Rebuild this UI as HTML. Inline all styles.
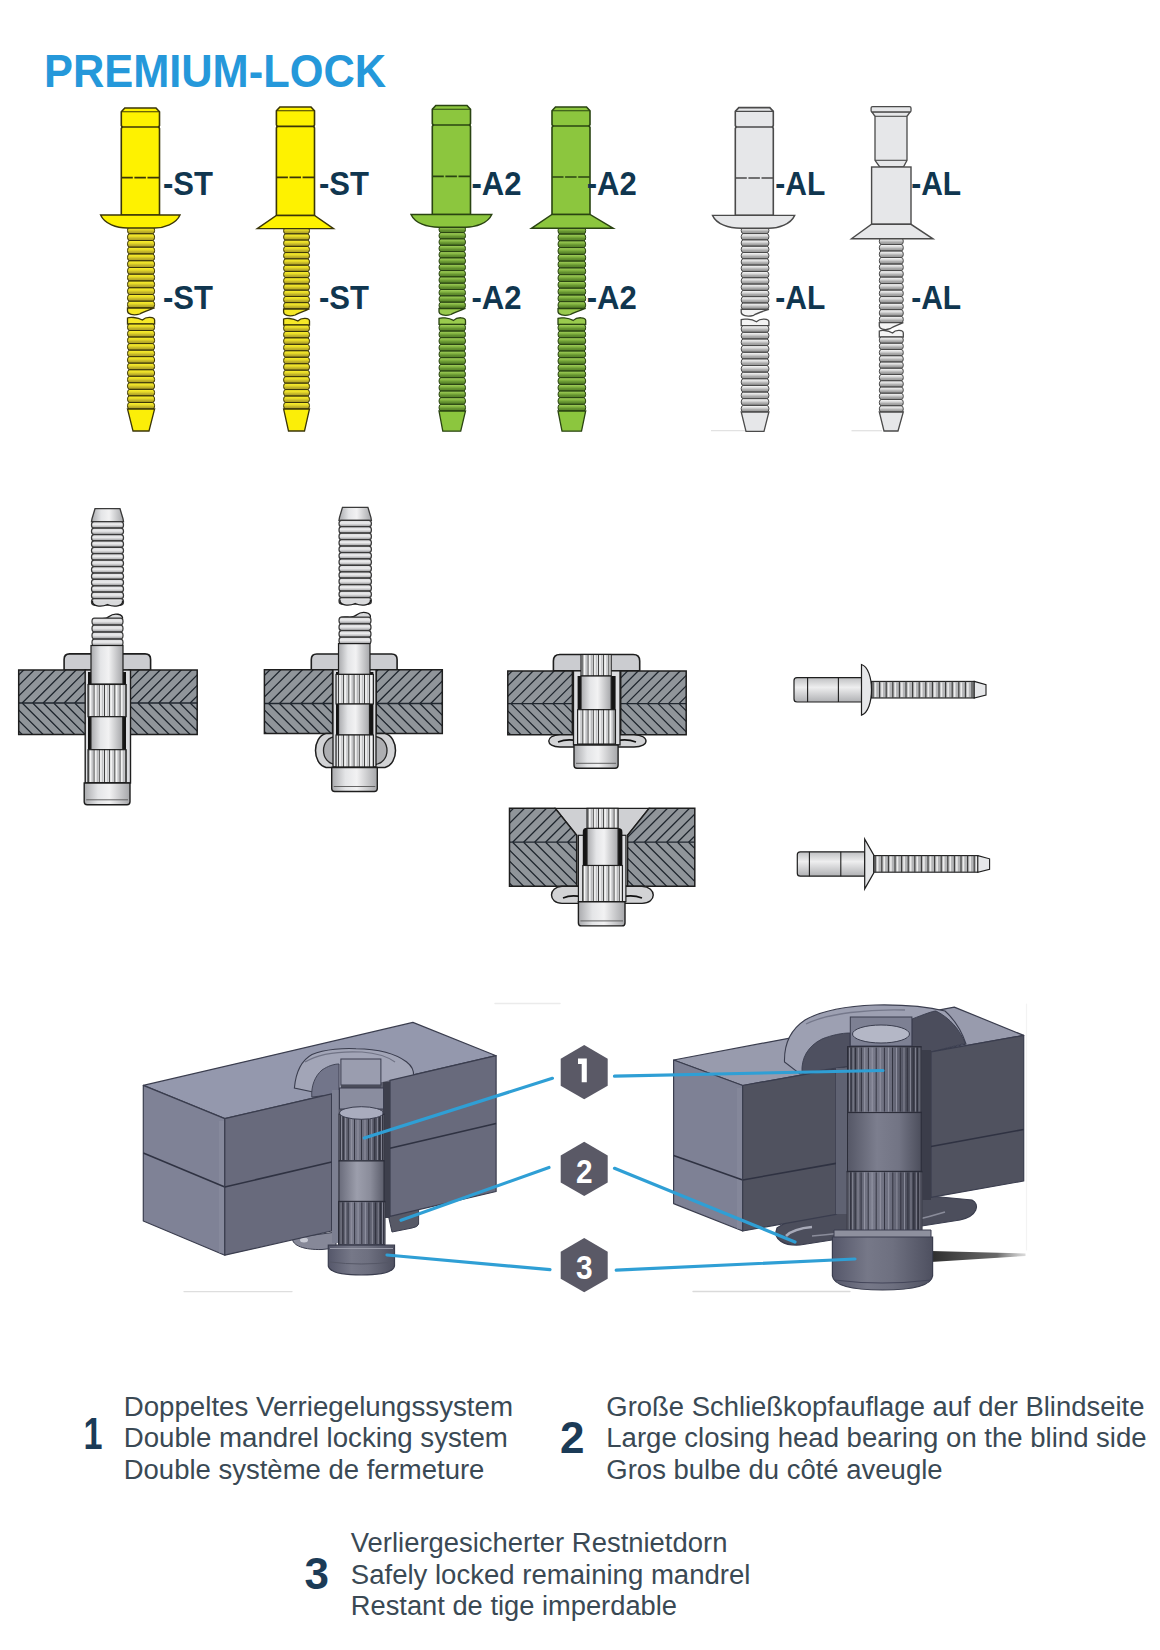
<!DOCTYPE html>
<html><head><meta charset="utf-8"><title>PREMIUM-LOCK</title>
<style>
html,body{margin:0;padding:0;background:#fff;width:1160px;height:1650px;overflow:hidden}
svg{display:block}
text{font-family:"Liberation Sans",sans-serif}
</style></head><body>
<svg width="1160" height="1650" viewBox="0 0 1160 1650">
<defs>
<linearGradient id="bd_y" x1="0" y1="0" x2="0" y2="1"><stop offset="0" stop-color="#8a7e15"/><stop offset="0.12" stop-color="#f8ec2c"/><stop offset="0.4" stop-color="#e6d928"/><stop offset="0.65" stop-color="#c3b52a"/><stop offset="0.9" stop-color="#ad9f24"/><stop offset="1" stop-color="#857a14"/></linearGradient>
<linearGradient id="bd_g" x1="0" y1="0" x2="0" y2="1"><stop offset="0" stop-color="#35581a"/><stop offset="0.12" stop-color="#9ccb56"/><stop offset="0.4" stop-color="#80b13f"/><stop offset="0.65" stop-color="#63902f"/><stop offset="0.9" stop-color="#588529"/><stop offset="1" stop-color="#35581a"/></linearGradient>
<linearGradient id="bd_a" x1="0" y1="0" x2="0" y2="1"><stop offset="0" stop-color="#626262"/><stop offset="0.12" stop-color="#f2f2f2"/><stop offset="0.4" stop-color="#d4d4d4"/><stop offset="0.65" stop-color="#aaaaaa"/><stop offset="0.9" stop-color="#9a9a9a"/><stop offset="1" stop-color="#626262"/></linearGradient>
<linearGradient id="bd_m" x1="0" y1="0" x2="0" y2="1"><stop offset="0" stop-color="#7c7c7e"/><stop offset="0.15" stop-color="#dedee0"/><stop offset="0.45" stop-color="#ebebec"/><stop offset="0.75" stop-color="#c0c0c2"/><stop offset="1" stop-color="#7c7c7e"/></linearGradient>

<linearGradient id="mg" x1="0" y1="0" x2="1" y2="0">
<stop offset="0" stop-color="#a9aaad"/><stop offset="0.3" stop-color="#e4e5e7"/><stop offset="0.55" stop-color="#f2f2f3"/><stop offset="1" stop-color="#a5a6a9"/>
</linearGradient>
<linearGradient id="mgv" x1="0" y1="0" x2="0" y2="1">
<stop offset="0" stop-color="#bfc0c2"/><stop offset="0.4" stop-color="#eeeeef"/><stop offset="1" stop-color="#b0b1b4"/>
</linearGradient>
<pattern id="knurl" patternUnits="userSpaceOnUse" width="5.2" height="10">
<rect width="5.2" height="10" fill="#e3e4e6"/><rect x="0" width="1.1" height="10" fill="#333"/><rect x="1.1" width="1.6" height="10" fill="#f7f7f7"/><rect x="3.2" width="1.2" height="10" fill="#b9babc"/>
</pattern>
<pattern id="mthread" patternUnits="userSpaceOnUse" width="60" height="6.6">
<rect width="60" height="6.6" fill="#cfd0d2"/><rect y="0" width="60" height="1.1" fill="#333"/><rect y="1.1" width="60" height="2.2" fill="#f4f4f4"/><rect y="4.4" width="60" height="1.3" fill="#a8a9ab"/>
</pattern>


<linearGradient id="kn3" x1="0" y1="0" x2="1" y2="0">
<stop offset="0" stop-color="#41434f"/><stop offset="0.3" stop-color="#7a7c8c"/><stop offset="0.6" stop-color="#6a6c7c"/><stop offset="1" stop-color="#373945"/>
</linearGradient>
<linearGradient id="sm3" x1="0" y1="0" x2="1" y2="0">
<stop offset="0" stop-color="#6a6c7b"/><stop offset="0.4" stop-color="#9c9eac"/><stop offset="0.7" stop-color="#8a8c9a"/><stop offset="1" stop-color="#5b5d6b"/>
</linearGradient>
<linearGradient id="sm3r" x1="0" y1="0" x2="1" y2="0">
<stop offset="0" stop-color="#555766"/><stop offset="0.4" stop-color="#7c7e8e"/><stop offset="0.7" stop-color="#727484"/><stop offset="1" stop-color="#4c4e5c"/>
</linearGradient>
<linearGradient id="cap3" x1="0" y1="0" x2="1" y2="0">
<stop offset="0" stop-color="#55576a"/><stop offset="0.35" stop-color="#767888"/><stop offset="0.6" stop-color="#6e7080"/><stop offset="1" stop-color="#4e5060"/>
</linearGradient>
<linearGradient id="shad" x1="0" y1="0" x2="1" y2="0">
<stop offset="0" stop-color="#222" stop-opacity="0.95"/><stop offset="0.7" stop-color="#444" stop-opacity="0.8"/><stop offset="1" stop-color="#888" stop-opacity="0.3"/>
</linearGradient>

</defs>
<text x="44" y="87.4" font-size="47" font-weight="bold" fill="#2598da" textLength="342" lengthAdjust="spacingAndGlyphs">PREMIUM-LOCK</text>
<g fill="url(#bd_y)" stroke="#3b3608" stroke-width="1.0"><rect x="127.5" y="227.0" width="27.1" height="6.75" rx="2.2" ry="3.38"/><rect x="127.5" y="233.8" width="27.1" height="6.75" rx="2.2" ry="3.38"/><rect x="127.5" y="240.5" width="27.1" height="6.75" rx="2.2" ry="3.38"/><rect x="127.5" y="247.2" width="27.1" height="6.75" rx="2.2" ry="3.38"/><rect x="127.5" y="254.0" width="27.1" height="6.75" rx="2.2" ry="3.38"/><rect x="127.5" y="260.8" width="27.1" height="6.75" rx="2.2" ry="3.38"/><rect x="127.5" y="267.5" width="27.1" height="6.75" rx="2.2" ry="3.38"/><rect x="127.5" y="274.2" width="27.1" height="6.75" rx="2.2" ry="3.38"/><rect x="127.5" y="281.0" width="27.1" height="6.75" rx="2.2" ry="3.38"/><rect x="127.5" y="287.8" width="27.1" height="6.75" rx="2.2" ry="3.38"/><rect x="127.5" y="294.5" width="27.1" height="6.75" rx="2.2" ry="3.38"/><rect x="127.5" y="301.2" width="27.1" height="6.75" rx="2.2" ry="3.38"/></g>
<path d="M127.5,308 L154.6,308 C149.18,310 142.695,312 139.695,314 C132.92,316 127.5,314 127.5,311 Z" fill="#f5e828" stroke="#3b3608" stroke-width="1.3"/>
<path d="M127.5,324 L154.6,324 L154.6,320 C154.6,317 146.47,316 142.405,320 C136.985,317 129.5,317 127.5,318 Z" fill="#f5e828" stroke="#3b3608" stroke-width="1.3"/>
<g fill="url(#bd_y)" stroke="#3b3608" stroke-width="1.0"><rect x="127.5" y="324.0" width="27.1" height="6.54" rx="2.2" ry="3.27"/><rect x="127.5" y="330.5" width="27.1" height="6.54" rx="2.2" ry="3.27"/><rect x="127.5" y="337.1" width="27.1" height="6.54" rx="2.2" ry="3.27"/><rect x="127.5" y="343.6" width="27.1" height="6.54" rx="2.2" ry="3.27"/><rect x="127.5" y="350.2" width="27.1" height="6.54" rx="2.2" ry="3.27"/><rect x="127.5" y="356.7" width="27.1" height="6.54" rx="2.2" ry="3.27"/><rect x="127.5" y="363.2" width="27.1" height="6.54" rx="2.2" ry="3.27"/><rect x="127.5" y="369.8" width="27.1" height="6.54" rx="2.2" ry="3.27"/><rect x="127.5" y="376.3" width="27.1" height="6.54" rx="2.2" ry="3.27"/><rect x="127.5" y="382.8" width="27.1" height="6.54" rx="2.2" ry="3.27"/><rect x="127.5" y="389.4" width="27.1" height="6.54" rx="2.2" ry="3.27"/><rect x="127.5" y="395.9" width="27.1" height="6.54" rx="2.2" ry="3.27"/><rect x="127.5" y="402.5" width="27.1" height="6.54" rx="2.2" ry="3.27"/></g>
<path d="M127.5,409 L154.6,409 L149,431 L133,431 Z" fill="#fbee08" stroke="#3b3608" stroke-width="1.3"/>
<path d="M121.3,215 L121.3,128.5 L122.1,127 L121.3,125.5 L121.3,111.8 L124.8,108 L156.0,108 L159.5,111.8 L159.5,125.5 L158.7,127 L159.5,128.5 L159.5,215 Z" fill="#fef200" stroke="#3b3608" stroke-width="1.6"/>
<line x1="121.3" y1="111.8" x2="159.5" y2="111.8" stroke="#3b3608" stroke-width="1.1"/>
<line x1="121.3" y1="127" x2="159.5" y2="127" stroke="#3b3608" stroke-width="1.7"/>
<line x1="121.3" y1="177.6" x2="159.5" y2="177.6" stroke="#3b3608" stroke-width="1.7" stroke-dasharray="11.5 1.6"/>
<path d="M100.6,215 L180,215 C176,224 164,228 154.6,228 L127.5,228 C116.6,228 104.6,224 100.6,215 Z" fill="#fef200" stroke="#3b3608" stroke-width="1.4"/>
<g fill="url(#bd_y)" stroke="#3b3608" stroke-width="1.0"><rect x="283.6" y="227.6" width="25.9" height="6.26" rx="2.2" ry="3.13"/><rect x="283.6" y="233.9" width="25.9" height="6.26" rx="2.2" ry="3.13"/><rect x="283.6" y="240.1" width="25.9" height="6.26" rx="2.2" ry="3.13"/><rect x="283.6" y="246.4" width="25.9" height="6.26" rx="2.2" ry="3.13"/><rect x="283.6" y="252.6" width="25.9" height="6.26" rx="2.2" ry="3.13"/><rect x="283.6" y="258.9" width="25.9" height="6.26" rx="2.2" ry="3.13"/><rect x="283.6" y="265.2" width="25.9" height="6.26" rx="2.2" ry="3.13"/><rect x="283.6" y="271.4" width="25.9" height="6.26" rx="2.2" ry="3.13"/><rect x="283.6" y="277.7" width="25.9" height="6.26" rx="2.2" ry="3.13"/><rect x="283.6" y="284.0" width="25.9" height="6.26" rx="2.2" ry="3.13"/><rect x="283.6" y="290.2" width="25.9" height="6.26" rx="2.2" ry="3.13"/><rect x="283.6" y="296.5" width="25.9" height="6.26" rx="2.2" ry="3.13"/><rect x="283.6" y="302.7" width="25.9" height="6.26" rx="2.2" ry="3.13"/></g>
<path d="M283.6,309 L309.5,309 C304.32,311 298.255,313 295.255,315 C288.78000000000003,317 283.6,315 283.6,312 Z" fill="#f5e828" stroke="#3b3608" stroke-width="1.3"/>
<path d="M283.6,325 L309.5,325 L309.5,321 C309.5,318 301.73,317 297.845,321 C292.665,318 285.6,318 283.6,319 Z" fill="#f5e828" stroke="#3b3608" stroke-width="1.3"/>
<g fill="url(#bd_y)" stroke="#3b3608" stroke-width="1.0"><rect x="283.6" y="325.0" width="25.9" height="6.46" rx="2.2" ry="3.23"/><rect x="283.6" y="331.5" width="25.9" height="6.46" rx="2.2" ry="3.23"/><rect x="283.6" y="337.9" width="25.9" height="6.46" rx="2.2" ry="3.23"/><rect x="283.6" y="344.4" width="25.9" height="6.46" rx="2.2" ry="3.23"/><rect x="283.6" y="350.8" width="25.9" height="6.46" rx="2.2" ry="3.23"/><rect x="283.6" y="357.3" width="25.9" height="6.46" rx="2.2" ry="3.23"/><rect x="283.6" y="363.8" width="25.9" height="6.46" rx="2.2" ry="3.23"/><rect x="283.6" y="370.2" width="25.9" height="6.46" rx="2.2" ry="3.23"/><rect x="283.6" y="376.7" width="25.9" height="6.46" rx="2.2" ry="3.23"/><rect x="283.6" y="383.2" width="25.9" height="6.46" rx="2.2" ry="3.23"/><rect x="283.6" y="389.6" width="25.9" height="6.46" rx="2.2" ry="3.23"/><rect x="283.6" y="396.1" width="25.9" height="6.46" rx="2.2" ry="3.23"/><rect x="283.6" y="402.5" width="25.9" height="6.46" rx="2.2" ry="3.23"/></g>
<path d="M283.6,409 L309.5,409 L304.5,431 L288.5,431 Z" fill="#fbee08" stroke="#3b3608" stroke-width="1.3"/>
<path d="M276.4,215.5 L276.4,127.9 L277.2,126.4 L276.4,124.9 L276.4,110.8 L279.9,107 L311.0,107 L314.5,110.8 L314.5,124.9 L313.7,126.4 L314.5,127.9 L314.5,215.5 Z" fill="#fef200" stroke="#3b3608" stroke-width="1.6"/>
<line x1="276.4" y1="110.8" x2="314.5" y2="110.8" stroke="#3b3608" stroke-width="1.1"/>
<line x1="276.4" y1="126.4" x2="314.5" y2="126.4" stroke="#3b3608" stroke-width="1.7"/>
<line x1="276.4" y1="177.3" x2="314.5" y2="177.3" stroke="#3b3608" stroke-width="1.7" stroke-dasharray="11.5 1.6"/>
<path d="M276.4,215.5 L314.5,215.5 L333.5,228.6 L257.3,228.6 Z" fill="#fef200" stroke="#3b3608" stroke-width="1.4"/>
<g fill="url(#bd_g)" stroke="#2a4412" stroke-width="1.0"><rect x="439.0" y="226.3" width="26.5" height="6.32" rx="2.2" ry="3.16"/><rect x="439.0" y="232.6" width="26.5" height="6.32" rx="2.2" ry="3.16"/><rect x="439.0" y="238.9" width="26.5" height="6.32" rx="2.2" ry="3.16"/><rect x="439.0" y="245.3" width="26.5" height="6.32" rx="2.2" ry="3.16"/><rect x="439.0" y="251.6" width="26.5" height="6.32" rx="2.2" ry="3.16"/><rect x="439.0" y="257.9" width="26.5" height="6.32" rx="2.2" ry="3.16"/><rect x="439.0" y="264.2" width="26.5" height="6.32" rx="2.2" ry="3.16"/><rect x="439.0" y="270.6" width="26.5" height="6.32" rx="2.2" ry="3.16"/><rect x="439.0" y="276.9" width="26.5" height="6.32" rx="2.2" ry="3.16"/><rect x="439.0" y="283.2" width="26.5" height="6.32" rx="2.2" ry="3.16"/><rect x="439.0" y="289.5" width="26.5" height="6.32" rx="2.2" ry="3.16"/><rect x="439.0" y="295.9" width="26.5" height="6.32" rx="2.2" ry="3.16"/><rect x="439.0" y="302.2" width="26.5" height="6.32" rx="2.2" ry="3.16"/></g>
<path d="M439,308.5 L465.5,308.5 C460.2,310.5 453.925,312.5 450.925,314.5 C444.3,316.5 439,314.5 439,311.5 Z" fill="#9acb4e" stroke="#2a4412" stroke-width="1.3"/>
<path d="M439,324.4 L465.5,324.4 L465.5,320.4 C465.5,317.4 457.55,316.4 453.575,320.4 C448.275,317.4 441,317.4 439,318.4 Z" fill="#9acb4e" stroke="#2a4412" stroke-width="1.3"/>
<g fill="url(#bd_g)" stroke="#2a4412" stroke-width="1.0"><rect x="439.0" y="324.4" width="26.5" height="6.66" rx="2.2" ry="3.33"/><rect x="439.0" y="331.1" width="26.5" height="6.66" rx="2.2" ry="3.33"/><rect x="439.0" y="337.7" width="26.5" height="6.66" rx="2.2" ry="3.33"/><rect x="439.0" y="344.4" width="26.5" height="6.66" rx="2.2" ry="3.33"/><rect x="439.0" y="351.0" width="26.5" height="6.66" rx="2.2" ry="3.33"/><rect x="439.0" y="357.7" width="26.5" height="6.66" rx="2.2" ry="3.33"/><rect x="439.0" y="364.4" width="26.5" height="6.66" rx="2.2" ry="3.33"/><rect x="439.0" y="371.0" width="26.5" height="6.66" rx="2.2" ry="3.33"/><rect x="439.0" y="377.7" width="26.5" height="6.66" rx="2.2" ry="3.33"/><rect x="439.0" y="384.4" width="26.5" height="6.66" rx="2.2" ry="3.33"/><rect x="439.0" y="391.0" width="26.5" height="6.66" rx="2.2" ry="3.33"/><rect x="439.0" y="397.7" width="26.5" height="6.66" rx="2.2" ry="3.33"/><rect x="439.0" y="404.3" width="26.5" height="6.66" rx="2.2" ry="3.33"/></g>
<path d="M439,411 L465.5,411 L460.7,431.2 L442.8,431.2 Z" fill="#8cc63e" stroke="#2a4412" stroke-width="1.3"/>
<path d="M432.3,214.5 L432.3,126.5 L433.1,125 L432.3,123.5 L432.3,109.3 L435.8,105.5 L467.0,105.5 L470.5,109.3 L470.5,123.5 L469.7,125 L470.5,126.5 L470.5,214.5 Z" fill="#8cc63e" stroke="#2a4412" stroke-width="1.6"/>
<line x1="432.3" y1="109.3" x2="470.5" y2="109.3" stroke="#2a4412" stroke-width="1.1"/>
<line x1="432.3" y1="125" x2="470.5" y2="125" stroke="#2a4412" stroke-width="1.7"/>
<line x1="432.3" y1="176.4" x2="470.5" y2="176.4" stroke="#2a4412" stroke-width="1.7" stroke-dasharray="11.5 1.6"/>
<path d="M411,214.5 L491.8,214.5 C487.8,223.3 475.8,227.3 465.5,227.3 L439,227.3 C427,227.3 415,223.3 411,214.5 Z" fill="#8cc63e" stroke="#2a4412" stroke-width="1.4"/>
<g fill="url(#bd_g)" stroke="#2a4412" stroke-width="1.0"><rect x="558.0" y="227.3" width="27.7" height="6.77" rx="2.2" ry="3.38"/><rect x="558.0" y="234.1" width="27.7" height="6.77" rx="2.2" ry="3.38"/><rect x="558.0" y="240.8" width="27.7" height="6.77" rx="2.2" ry="3.38"/><rect x="558.0" y="247.6" width="27.7" height="6.77" rx="2.2" ry="3.38"/><rect x="558.0" y="254.4" width="27.7" height="6.77" rx="2.2" ry="3.38"/><rect x="558.0" y="261.1" width="27.7" height="6.77" rx="2.2" ry="3.38"/><rect x="558.0" y="267.9" width="27.7" height="6.77" rx="2.2" ry="3.38"/><rect x="558.0" y="274.7" width="27.7" height="6.77" rx="2.2" ry="3.38"/><rect x="558.0" y="281.4" width="27.7" height="6.77" rx="2.2" ry="3.38"/><rect x="558.0" y="288.2" width="27.7" height="6.77" rx="2.2" ry="3.38"/><rect x="558.0" y="295.0" width="27.7" height="6.77" rx="2.2" ry="3.38"/><rect x="558.0" y="301.7" width="27.7" height="6.77" rx="2.2" ry="3.38"/></g>
<path d="M558,308.5 L585.7,308.5 C580.1600000000001,310.5 573.465,312.5 570.465,314.5 C563.54,316.5 558,314.5 558,311.5 Z" fill="#9acb4e" stroke="#2a4412" stroke-width="1.3"/>
<path d="M558,324.4 L585.7,324.4 L585.7,320.4 C585.7,317.4 577.39,316.4 573.235,320.4 C567.695,317.4 560,317.4 558,318.4 Z" fill="#9acb4e" stroke="#2a4412" stroke-width="1.3"/>
<g fill="url(#bd_g)" stroke="#2a4412" stroke-width="1.0"><rect x="558.0" y="324.4" width="27.7" height="6.66" rx="2.2" ry="3.33"/><rect x="558.0" y="331.1" width="27.7" height="6.66" rx="2.2" ry="3.33"/><rect x="558.0" y="337.7" width="27.7" height="6.66" rx="2.2" ry="3.33"/><rect x="558.0" y="344.4" width="27.7" height="6.66" rx="2.2" ry="3.33"/><rect x="558.0" y="351.0" width="27.7" height="6.66" rx="2.2" ry="3.33"/><rect x="558.0" y="357.7" width="27.7" height="6.66" rx="2.2" ry="3.33"/><rect x="558.0" y="364.4" width="27.7" height="6.66" rx="2.2" ry="3.33"/><rect x="558.0" y="371.0" width="27.7" height="6.66" rx="2.2" ry="3.33"/><rect x="558.0" y="377.7" width="27.7" height="6.66" rx="2.2" ry="3.33"/><rect x="558.0" y="384.4" width="27.7" height="6.66" rx="2.2" ry="3.33"/><rect x="558.0" y="391.0" width="27.7" height="6.66" rx="2.2" ry="3.33"/><rect x="558.0" y="397.7" width="27.7" height="6.66" rx="2.2" ry="3.33"/><rect x="558.0" y="404.3" width="27.7" height="6.66" rx="2.2" ry="3.33"/></g>
<path d="M558,411 L585.7,411 L581.5,431.2 L562,431.2 Z" fill="#8cc63e" stroke="#2a4412" stroke-width="1.3"/>
<path d="M552,214.5 L552,127.5 L552.8,126 L552,124.5 L552,110.8 L555.5,107 L586.5,107 L590,110.8 L590,124.5 L589.2,126 L590,127.5 L590,214.5 Z" fill="#8cc63e" stroke="#2a4412" stroke-width="1.6"/>
<line x1="552" y1="110.8" x2="590" y2="110.8" stroke="#2a4412" stroke-width="1.1"/>
<line x1="552" y1="126" x2="590" y2="126" stroke="#2a4412" stroke-width="1.7"/>
<line x1="552" y1="177" x2="590" y2="177" stroke="#2a4412" stroke-width="1.7" stroke-dasharray="11.5 1.6"/>
<path d="M552,214.5 L590,214.5 L613.3,228.3 L531.4,228.3 Z" fill="#8cc63e" stroke="#2a4412" stroke-width="1.4"/>
<g fill="url(#bd_a)" stroke="#4a4a4a" stroke-width="1.0"><rect x="741.2" y="227.3" width="27.7" height="6.31" rx="2.2" ry="3.15"/><rect x="741.2" y="233.6" width="27.7" height="6.31" rx="2.2" ry="3.15"/><rect x="741.2" y="239.9" width="27.7" height="6.31" rx="2.2" ry="3.15"/><rect x="741.2" y="246.2" width="27.7" height="6.31" rx="2.2" ry="3.15"/><rect x="741.2" y="252.5" width="27.7" height="6.31" rx="2.2" ry="3.15"/><rect x="741.2" y="258.8" width="27.7" height="6.31" rx="2.2" ry="3.15"/><rect x="741.2" y="265.1" width="27.7" height="6.31" rx="2.2" ry="3.15"/><rect x="741.2" y="271.5" width="27.7" height="6.31" rx="2.2" ry="3.15"/><rect x="741.2" y="277.8" width="27.7" height="6.31" rx="2.2" ry="3.15"/><rect x="741.2" y="284.1" width="27.7" height="6.31" rx="2.2" ry="3.15"/><rect x="741.2" y="290.4" width="27.7" height="6.31" rx="2.2" ry="3.15"/><rect x="741.2" y="296.7" width="27.7" height="6.31" rx="2.2" ry="3.15"/><rect x="741.2" y="303.0" width="27.7" height="6.31" rx="2.2" ry="3.15"/></g>
<path d="M741.2,309.3 L768.9,309.3 C763.36,311.3 756.665,313.3 753.665,315.3 C746.74,317.3 741.2,315.3 741.2,312.3 Z" fill="#f4f4f4" stroke="#4a4a4a" stroke-width="1.3"/>
<path d="M741.2,325.7 L768.9,325.7 L768.9,321.7 C768.9,318.7 760.59,317.7 756.4350000000001,321.7 C750.8950000000001,318.7 743.2,318.7 741.2,319.7 Z" fill="#f4f4f4" stroke="#4a4a4a" stroke-width="1.3"/>
<g fill="url(#bd_a)" stroke="#4a4a4a" stroke-width="1.0"><rect x="741.2" y="325.7" width="27.7" height="6.64" rx="2.2" ry="3.32"/><rect x="741.2" y="332.3" width="27.7" height="6.64" rx="2.2" ry="3.32"/><rect x="741.2" y="339.0" width="27.7" height="6.64" rx="2.2" ry="3.32"/><rect x="741.2" y="345.6" width="27.7" height="6.64" rx="2.2" ry="3.32"/><rect x="741.2" y="352.3" width="27.7" height="6.64" rx="2.2" ry="3.32"/><rect x="741.2" y="358.9" width="27.7" height="6.64" rx="2.2" ry="3.32"/><rect x="741.2" y="365.5" width="27.7" height="6.64" rx="2.2" ry="3.32"/><rect x="741.2" y="372.2" width="27.7" height="6.64" rx="2.2" ry="3.32"/><rect x="741.2" y="378.8" width="27.7" height="6.64" rx="2.2" ry="3.32"/><rect x="741.2" y="385.4" width="27.7" height="6.64" rx="2.2" ry="3.32"/><rect x="741.2" y="392.1" width="27.7" height="6.64" rx="2.2" ry="3.32"/><rect x="741.2" y="398.7" width="27.7" height="6.64" rx="2.2" ry="3.32"/><rect x="741.2" y="405.4" width="27.7" height="6.64" rx="2.2" ry="3.32"/></g>
<path d="M741.2,412 L768.9,412 L764,431.3 L746,431.3 Z" fill="#e6e7e9" stroke="#4a4a4a" stroke-width="1.3"/>
<path d="M735.3,215.4 L735.3,128.5 L736.0999999999999,127 L735.3,125.5 L735.3,111.39999999999999 L738.8,107.6 L769.8,107.6 L773.3,111.39999999999999 L773.3,125.5 L772.5,127 L773.3,128.5 L773.3,215.4 Z" fill="#e6e7e9" stroke="#4a4a4a" stroke-width="1.6"/>
<line x1="735.3" y1="111.39999999999999" x2="773.3" y2="111.39999999999999" stroke="#4a4a4a" stroke-width="1.1"/>
<line x1="735.3" y1="127" x2="773.3" y2="127" stroke="#4a4a4a" stroke-width="1.7"/>
<line x1="735.3" y1="178" x2="773.3" y2="178" stroke="#4a4a4a" stroke-width="1.7" stroke-dasharray="11.5 1.6"/>
<path d="M712.5,215.4 L794.7,215.4 C790.7,224.3 778.7,228.3 768.9,228.3 L741.2,228.3 C728.5,228.3 716.5,224.3 712.5,215.4 Z" fill="#e6e7e9" stroke="#4a4a4a" stroke-width="1.4"/>
<g fill="url(#bd_a)" stroke="#4a4a4a" stroke-width="1.0"><rect x="879.3" y="238.0" width="24.0" height="6.52" rx="2.2" ry="3.26"/><rect x="879.3" y="244.5" width="24.0" height="6.52" rx="2.2" ry="3.26"/><rect x="879.3" y="251.0" width="24.0" height="6.52" rx="2.2" ry="3.26"/><rect x="879.3" y="257.5" width="24.0" height="6.52" rx="2.2" ry="3.26"/><rect x="879.3" y="264.1" width="24.0" height="6.52" rx="2.2" ry="3.26"/><rect x="879.3" y="270.6" width="24.0" height="6.52" rx="2.2" ry="3.26"/><rect x="879.3" y="277.1" width="24.0" height="6.52" rx="2.2" ry="3.26"/><rect x="879.3" y="283.6" width="24.0" height="6.52" rx="2.2" ry="3.26"/><rect x="879.3" y="290.1" width="24.0" height="6.52" rx="2.2" ry="3.26"/><rect x="879.3" y="296.6" width="24.0" height="6.52" rx="2.2" ry="3.26"/><rect x="879.3" y="303.2" width="24.0" height="6.52" rx="2.2" ry="3.26"/><rect x="879.3" y="309.7" width="24.0" height="6.52" rx="2.2" ry="3.26"/><rect x="879.3" y="316.2" width="24.0" height="6.52" rx="2.2" ry="3.26"/></g>
<path d="M879.3,322.7 L903.3,322.7 C898.5,324.7 893.0999999999999,326.7 890.0999999999999,328.7 C884.0999999999999,330.7 879.3,328.7 879.3,325.7 Z" fill="#f4f4f4" stroke="#4a4a4a" stroke-width="1.3"/>
<path d="M879.3,337 L903.3,337 L903.3,333 C903.3,330 896.1,329 892.5,333 C887.7,330 881.3,330 879.3,331 Z" fill="#f4f4f4" stroke="#4a4a4a" stroke-width="1.3"/>
<g fill="url(#bd_a)" stroke="#4a4a4a" stroke-width="1.0"><rect x="879.3" y="337.0" width="24.0" height="6.25" rx="2.2" ry="3.12"/><rect x="879.3" y="343.2" width="24.0" height="6.25" rx="2.2" ry="3.12"/><rect x="879.3" y="349.5" width="24.0" height="6.25" rx="2.2" ry="3.12"/><rect x="879.3" y="355.8" width="24.0" height="6.25" rx="2.2" ry="3.12"/><rect x="879.3" y="362.0" width="24.0" height="6.25" rx="2.2" ry="3.12"/><rect x="879.3" y="368.2" width="24.0" height="6.25" rx="2.2" ry="3.12"/><rect x="879.3" y="374.5" width="24.0" height="6.25" rx="2.2" ry="3.12"/><rect x="879.3" y="380.8" width="24.0" height="6.25" rx="2.2" ry="3.12"/><rect x="879.3" y="387.0" width="24.0" height="6.25" rx="2.2" ry="3.12"/><rect x="879.3" y="393.2" width="24.0" height="6.25" rx="2.2" ry="3.12"/><rect x="879.3" y="399.5" width="24.0" height="6.25" rx="2.2" ry="3.12"/><rect x="879.3" y="405.8" width="24.0" height="6.25" rx="2.2" ry="3.12"/></g>
<path d="M879.3,412 L903.3,412 L898,431 L884,431 Z" fill="#e6e7e9" stroke="#4a4a4a" stroke-width="1.3"/>
<rect x="871.1" y="106.6" width="39.9" height="5.6" rx="1.5" fill="#e6e7e9" stroke="#4a4a4a" stroke-width="1.3"/>
<path d="M872,112.2 L910,112.2 L907,116.3 L907,160.3 L903.4,167 L879.8,167 L875,160.3 L875,116.3 Z" fill="#e6e7e9" stroke="#4a4a4a" stroke-width="1.3"/>
<line x1="875" y1="116.3" x2="907" y2="116.3" stroke="#4a4a4a" stroke-width="1.1"/>
<line x1="875" y1="160.3" x2="907" y2="160.3" stroke="#4a4a4a" stroke-width="1.1"/>
<rect x="871.6" y="167" width="39.4" height="57.3" fill="#e6e7e9" stroke="#4a4a4a" stroke-width="1.4"/>
<path d="M871.6,224.3 L911,224.3 L933,238.8 L851.5,238.8 Z" fill="#e6e7e9" stroke="#4a4a4a" stroke-width="1.4"/>
<line x1="711" y1="430.7" x2="745" y2="430.7" stroke="#e2e2e2" stroke-width="1.3"/><line x1="851.5" y1="430.7" x2="882" y2="430.7" stroke="#e2e2e2" stroke-width="1.3"/>
<text x="163" y="195" font-size="33" font-weight="bold" fill="#10364f" textLength="50" lengthAdjust="spacingAndGlyphs">-ST</text>
<text x="163" y="309" font-size="33" font-weight="bold" fill="#10364f" textLength="50" lengthAdjust="spacingAndGlyphs">-ST</text>
<text x="319" y="195" font-size="33" font-weight="bold" fill="#10364f" textLength="50" lengthAdjust="spacingAndGlyphs">-ST</text>
<text x="319" y="309" font-size="33" font-weight="bold" fill="#10364f" textLength="50" lengthAdjust="spacingAndGlyphs">-ST</text>
<text x="471.4" y="195" font-size="33" font-weight="bold" fill="#10364f" textLength="50" lengthAdjust="spacingAndGlyphs">-A2</text>
<text x="471.4" y="309" font-size="33" font-weight="bold" fill="#10364f" textLength="50" lengthAdjust="spacingAndGlyphs">-A2</text>
<text x="586.7" y="195" font-size="33" font-weight="bold" fill="#10364f" textLength="50" lengthAdjust="spacingAndGlyphs">-A2</text>
<text x="586.7" y="309" font-size="33" font-weight="bold" fill="#10364f" textLength="50" lengthAdjust="spacingAndGlyphs">-A2</text>
<text x="775.3" y="195" font-size="33" font-weight="bold" fill="#10364f" textLength="50" lengthAdjust="spacingAndGlyphs">-AL</text>
<text x="775.3" y="309" font-size="33" font-weight="bold" fill="#10364f" textLength="50" lengthAdjust="spacingAndGlyphs">-AL</text>
<text x="911.2" y="195" font-size="33" font-weight="bold" fill="#10364f" textLength="50" lengthAdjust="spacingAndGlyphs">-AL</text>
<text x="911.2" y="309" font-size="33" font-weight="bold" fill="#10364f" textLength="50" lengthAdjust="spacingAndGlyphs">-AL</text>
<path d="M91.5,521.7 L92.0,518.7 L95.0,508.7 L120.0,508.7 L123.0,518.7 L123.5,521.7 Z" fill="url(#mg)" stroke="#3a3a3a" stroke-width="1.3"/>
<g fill="url(#bd_m)" stroke="#3a3a3a" stroke-width="1.25"><rect x="91.5" y="521.7" width="32.0" height="6.41" rx="2.4" ry="3.20"/><rect x="91.5" y="528.1" width="32.0" height="6.41" rx="2.4" ry="3.20"/><rect x="91.5" y="534.5" width="32.0" height="6.41" rx="2.4" ry="3.20"/><rect x="91.5" y="540.9" width="32.0" height="6.41" rx="2.4" ry="3.20"/><rect x="91.5" y="547.3" width="32.0" height="6.41" rx="2.4" ry="3.20"/><rect x="91.5" y="553.7" width="32.0" height="6.41" rx="2.4" ry="3.20"/><rect x="91.5" y="560.1" width="32.0" height="6.41" rx="2.4" ry="3.20"/><rect x="91.5" y="566.6" width="32.0" height="6.41" rx="2.4" ry="3.20"/><rect x="91.5" y="573.0" width="32.0" height="6.41" rx="2.4" ry="3.20"/><rect x="91.5" y="579.4" width="32.0" height="6.41" rx="2.4" ry="3.20"/><rect x="91.5" y="585.8" width="32.0" height="6.41" rx="2.4" ry="3.20"/><rect x="91.5" y="592.2" width="32.0" height="6.41" rx="2.4" ry="3.20"/><rect x="91.5" y="598.6" width="32.0" height="6.41" rx="2.4" ry="3.20"/></g>
<path d="M92.5,600.5 C91.5,606.5 101.1,607.5 107.5,604.5 C113.9,607.5 123.5,606.5 122.5,600.5" fill="#d9dadc" stroke="#1e1e1e" stroke-width="1.3"/>
<path d="M92.5,619.5 C97.9,616.5 104.3,621.5 109.1,616.5 C113.9,612.5 123.5,613.5 122.5,619.5" fill="#d9dadc" stroke="#1e1e1e" stroke-width="1.3"/>
<g fill="url(#bd_m)" stroke="#3a3a3a" stroke-width="1.25"><rect x="92.0" y="618.0" width="31.0" height="7.00" rx="2.4" ry="3.50"/><rect x="92.0" y="625.0" width="31.0" height="7.00" rx="2.4" ry="3.50"/><rect x="92.0" y="632.0" width="31.0" height="7.00" rx="2.4" ry="3.50"/><rect x="92.0" y="639.0" width="31.0" height="7.00" rx="2.4" ry="3.50"/></g>
<path d="M64.1,670 V659.4 Q64.1,653.9 69.6,653.9 H145.1 Q150.6,653.9 150.6,659.4 V670 Z" fill="#cbccd0" stroke="#1e1e1e" stroke-width="1.6"/>
<clipPath id="c1a"><rect x="18.7" y="670" width="67.0" height="64.39999999999998"/></clipPath>
<path d="M18.7,670 H85.7 V734.4 H18.7 Z" fill="#90959a"/>
<g clip-path="url(#c1a)"><path d="M-40.8,703L-5.8,668M-40.8,703L-7.4,736.4M-30.3,703L4.7,668M-30.3,703L3.1,736.4M-19.8,703L15.2,668M-19.8,703L13.6,736.4M-9.3,703L25.7,668M-9.3,703L24.1,736.4M1.2,703L36.2,668M1.2,703L34.6,736.4M11.7,703L46.7,668M11.7,703L45.1,736.4M22.2,703L57.2,668M22.2,703L55.6,736.4M32.7,703L67.7,668M32.7,703L66.1,736.4M43.2,703L78.2,668M43.2,703L76.6,736.4M53.7,703L88.7,668M53.7,703L87.1,736.4M64.2,703L99.2,668M64.2,703L97.6,736.4M74.7,703L109.7,668M74.7,703L108.1,736.4M85.2,703L120.2,668M85.2,703L118.6,736.4M95.7,703L130.7,668M95.7,703L129.1,736.4M106.2,703L141.2,668M106.2,703L139.6,736.4M116.7,703L151.7,668M116.7,703L150.1,736.4M127.2,703L162.2,668M127.2,703L160.6,736.4M137.7,703L172.7,668M137.7,703L171.1,736.4M148.2,703L183.2,668M148.2,703L181.6,736.4" stroke="#1f262e" stroke-width="1.3" fill="none"/></g>
<line x1="18.7" y1="703" x2="85.7" y2="703" stroke="#1f262e" stroke-width="1.3"/>
<path d="M18.7,670 H85.7 V734.4 H18.7 Z" fill="none" stroke="#1e1e1e" stroke-width="1.5"/>
<clipPath id="c1b"><rect x="129" y="670" width="68.19999999999999" height="64.39999999999998"/></clipPath>
<path d="M129,670 H197.2 V734.4 H129 Z" fill="#90959a"/>
<g clip-path="url(#c1b)"><path d="M74.7,703L109.7,668M74.7,703L108.1,736.4M85.2,703L120.2,668M85.2,703L118.6,736.4M95.7,703L130.7,668M95.7,703L129.1,736.4M106.2,703L141.2,668M106.2,703L139.6,736.4M116.7,703L151.7,668M116.7,703L150.1,736.4M127.2,703L162.2,668M127.2,703L160.6,736.4M137.7,703L172.7,668M137.7,703L171.1,736.4M148.2,703L183.2,668M148.2,703L181.6,736.4M158.7,703L193.7,668M158.7,703L192.1,736.4M169.2,703L204.2,668M169.2,703L202.6,736.4M179.7,703L214.7,668M179.7,703L213.1,736.4M190.2,703L225.2,668M190.2,703L223.6,736.4M200.7,703L235.7,668M200.7,703L234.1,736.4M211.2,703L246.2,668M211.2,703L244.6,736.4M221.7,703L256.7,668M221.7,703L255.1,736.4M232.2,703L267.2,668M232.2,703L265.6,736.4M242.7,703L277.7,668M242.7,703L276.1,736.4M253.2,703L288.2,668M253.2,703L286.6,736.4" stroke="#1f262e" stroke-width="1.3" fill="none"/></g>
<line x1="129" y1="703" x2="197.2" y2="703" stroke="#1f262e" stroke-width="1.3"/>
<path d="M129,670 H197.2 V734.4 H129 Z" fill="none" stroke="#1e1e1e" stroke-width="1.5"/>
<rect x="85.2" y="670" width="45.3" height="113" fill="#dcdde0" stroke="#1e1e1e" stroke-width="1.4"/>
<rect x="88" y="672" width="38" height="111" fill="#141414"/>
<rect x="91" y="645.5" width="32" height="38.5" rx="0" fill="url(#mg)" stroke="#1e1e1e" stroke-width="1.2"/>
<rect x="88" y="684.5" width="38.2" height="32.200000000000045" fill="url(#knurl)" stroke="#1e1e1e" stroke-width="1.1"/>
<rect x="90.9" y="716.7" width="31.89999999999999" height="33.0" rx="0" fill="url(#mg)" stroke="#1e1e1e" stroke-width="1.2"/>
<rect x="88" y="749.7" width="38.2" height="32.89999999999998" fill="url(#knurl)" stroke="#1e1e1e" stroke-width="1.1"/>
<path d="M84.2,783 H130 V801.8 Q130,804.8 127,804.8 H87.2 Q84.2,804.8 84.2,801.8 Z" fill="url(#mg)" stroke="#1e1e1e" stroke-width="1.4"/><line x1="86.2" y1="799.8" x2="128" y2="799.8" stroke="#555" stroke-width="0.9"/>
<path d="M339,520.3 L339.5,517.3 L342.5,507.3 L367.9,507.3 L370.9,517.3 L371.4,520.3 Z" fill="url(#mg)" stroke="#3a3a3a" stroke-width="1.3"/>
<g fill="url(#bd_m)" stroke="#3a3a3a" stroke-width="1.25"><rect x="339.0" y="520.3" width="32.4" height="6.44" rx="2.4" ry="3.22"/><rect x="339.0" y="526.7" width="32.4" height="6.44" rx="2.4" ry="3.22"/><rect x="339.0" y="533.2" width="32.4" height="6.44" rx="2.4" ry="3.22"/><rect x="339.0" y="539.6" width="32.4" height="6.44" rx="2.4" ry="3.22"/><rect x="339.0" y="546.1" width="32.4" height="6.44" rx="2.4" ry="3.22"/><rect x="339.0" y="552.5" width="32.4" height="6.44" rx="2.4" ry="3.22"/><rect x="339.0" y="558.9" width="32.4" height="6.44" rx="2.4" ry="3.22"/><rect x="339.0" y="565.4" width="32.4" height="6.44" rx="2.4" ry="3.22"/><rect x="339.0" y="571.8" width="32.4" height="6.44" rx="2.4" ry="3.22"/><rect x="339.0" y="578.2" width="32.4" height="6.44" rx="2.4" ry="3.22"/><rect x="339.0" y="584.7" width="32.4" height="6.44" rx="2.4" ry="3.22"/><rect x="339.0" y="591.1" width="32.4" height="6.44" rx="2.4" ry="3.22"/><rect x="339.0" y="597.6" width="32.4" height="6.44" rx="2.4" ry="3.22"/></g>
<path d="M340,599.5 C339,605.5 348.71999999999997,606.5 355.2,603.5 C361.68,606.5 371.4,605.5 370.4,599.5" fill="#d9dadc" stroke="#1e1e1e" stroke-width="1.3"/>
<path d="M340,617.8 C345.48,614.8 351.96,619.8 356.82,614.8 C361.68,610.8 371.4,611.8 370.4,617.8" fill="#d9dadc" stroke="#1e1e1e" stroke-width="1.3"/>
<g fill="url(#bd_m)" stroke="#3a3a3a" stroke-width="1.25"><rect x="339.0" y="617.0" width="32.0" height="6.75" rx="2.4" ry="3.38"/><rect x="339.0" y="623.8" width="32.0" height="6.75" rx="2.4" ry="3.38"/><rect x="339.0" y="630.5" width="32.0" height="6.75" rx="2.4" ry="3.38"/><rect x="339.0" y="637.2" width="32.0" height="6.75" rx="2.4" ry="3.38"/></g>
<path d="M311.3,669.8 V659.5 Q311.3,654 316.8,654 H391.6 Q397.1,654 397.1,659.5 V669.8 Z" fill="#cbccd0" stroke="#1e1e1e" stroke-width="1.6"/>
<clipPath id="c2a"><rect x="264.4" y="669.8" width="68.20000000000005" height="63.80000000000007"/></clipPath>
<path d="M264.4,669.8 H332.6 V733.6 H264.4 Z" fill="#90959a"/>
<g clip-path="url(#c2a)"><path d="M203.9,703.5L239.6,667.8M203.9,703.5L236.0,735.6M214.7,703.5L250.4,667.8M214.7,703.5L246.8,735.6M225.5,703.5L261.2,667.8M225.5,703.5L257.6,735.6M236.3,703.5L272.0,667.8M236.3,703.5L268.4,735.6M247.1,703.5L282.8,667.8M247.1,703.5L279.2,735.6M257.9,703.5L293.6,667.8M257.9,703.5L290.0,735.6M268.7,703.5L304.4,667.8M268.7,703.5L300.8,735.6M279.5,703.5L315.2,667.8M279.5,703.5L311.6,735.6M290.3,703.5L326.0,667.8M290.3,703.5L322.4,735.6M301.1,703.5L336.8,667.8M301.1,703.5L333.2,735.6M311.9,703.5L347.6,667.8M311.9,703.5L344.0,735.6M322.7,703.5L358.4,667.8M322.7,703.5L354.8,735.6M333.5,703.5L369.2,667.8M333.5,703.5L365.6,735.6M344.3,703.5L380.0,667.8M344.3,703.5L376.4,735.6M355.1,703.5L390.8,667.8M355.1,703.5L387.2,735.6M365.9,703.5L401.6,667.8M365.9,703.5L398.0,735.6M376.7,703.5L412.4,667.8M376.7,703.5L408.8,735.6M387.5,703.5L423.2,667.8M387.5,703.5L419.6,735.6" stroke="#1f262e" stroke-width="1.3" fill="none"/></g>
<line x1="264.4" y1="703.5" x2="332.6" y2="703.5" stroke="#1f262e" stroke-width="1.3"/>
<path d="M264.4,669.8 H332.6 V733.6 H264.4 Z" fill="none" stroke="#1e1e1e" stroke-width="1.5"/>
<clipPath id="c2b"><rect x="376.3" y="669.8" width="66.0" height="63.80000000000007"/></clipPath>
<path d="M376.3,669.8 H442.3 V733.6 H376.3 Z" fill="#90959a"/>
<g clip-path="url(#c2b)"><path d="M311.9,703.5L347.6,667.8M311.9,703.5L344.0,735.6M322.7,703.5L358.4,667.8M322.7,703.5L354.8,735.6M333.5,703.5L369.2,667.8M333.5,703.5L365.6,735.6M344.3,703.5L380.0,667.8M344.3,703.5L376.4,735.6M355.1,703.5L390.8,667.8M355.1,703.5L387.2,735.6M365.9,703.5L401.6,667.8M365.9,703.5L398.0,735.6M376.7,703.5L412.4,667.8M376.7,703.5L408.8,735.6M387.5,703.5L423.2,667.8M387.5,703.5L419.6,735.6M398.3,703.5L434.0,667.8M398.3,703.5L430.4,735.6M409.1,703.5L444.8,667.8M409.1,703.5L441.2,735.6M419.9,703.5L455.6,667.8M419.9,703.5L452.0,735.6M430.7,703.5L466.4,667.8M430.7,703.5L462.8,735.6M441.5,703.5L477.2,667.8M441.5,703.5L473.6,735.6M452.3,703.5L488.0,667.8M452.3,703.5L484.4,735.6M463.1,703.5L498.8,667.8M463.1,703.5L495.2,735.6M473.9,703.5L509.6,667.8M473.9,703.5L506.0,735.6M484.7,703.5L520.4,667.8M484.7,703.5L516.8,735.6M495.5,703.5L531.2,667.8M495.5,703.5L527.6,735.6M506.3,703.5L542.0,667.8M506.3,703.5L538.4,735.6" stroke="#1f262e" stroke-width="1.3" fill="none"/></g>
<line x1="376.3" y1="703.5" x2="442.3" y2="703.5" stroke="#1f262e" stroke-width="1.3"/>
<path d="M376.3,669.8 H442.3 V733.6 H376.3 Z" fill="none" stroke="#1e1e1e" stroke-width="1.5"/>
<path d="M326,733.6 C312,737 312,764 326,767.5 L385,767.5 C399,764 399,737 385,733.6 Z" fill="#d2d3d5" stroke="#1e1e1e" stroke-width="1.5"/>
<path d="M337,736.5 C319,736.5 319,764.5 337,764.5 Z" fill="#adaeb1" stroke="#262626" stroke-width="1.3"/>
<path d="M373.5,736.5 C391.5,736.5 391.5,764.5 373.5,764.5 Z" fill="#adaeb1" stroke="#262626" stroke-width="1.3"/>
<rect x="333" y="669.8" width="43" height="97" fill="#dcdde0" stroke="#1e1e1e" stroke-width="1.3"/>
<rect x="336" y="672" width="37.4" height="95" fill="#141414"/>
<rect x="338.5" y="643.6" width="31.5" height="30.799999999999955" rx="0" fill="url(#mg)" stroke="#1e1e1e" stroke-width="1.2"/>
<rect x="336" y="674.4" width="37.39999999999998" height="29.600000000000023" fill="url(#knurl)" stroke="#1e1e1e" stroke-width="1.1"/>
<rect x="338.5" y="704" width="31.0" height="31" rx="0" fill="url(#mg)" stroke="#1e1e1e" stroke-width="1.2"/>
<rect x="336" y="735" width="37.39999999999998" height="32" fill="url(#knurl)" stroke="#1e1e1e" stroke-width="1.1"/>
<path d="M331.7,767.5 H377.3 V788.5 Q377.3,791.5 374.3,791.5 H334.7 Q331.7,791.5 331.7,788.5 Z" fill="url(#mg)" stroke="#1e1e1e" stroke-width="1.4"/><line x1="333.7" y1="786.5" x2="375.3" y2="786.5" stroke="#555" stroke-width="0.9"/>
<path d="M553.4,670.9 V661.0 Q553.4,654.5 559.9,654.5 H633.2 Q639.7,654.5 639.7,661.0 V670.9 Z" fill="#cbccd0" stroke="#1e1e1e" stroke-width="1.6"/>
<clipPath id="c3a"><rect x="507.8" y="670.9" width="64.59999999999997" height="63.80000000000007"/></clipPath>
<path d="M507.8,670.9 H572.4 V734.7 H507.8 Z" fill="#90959a"/>
<g clip-path="url(#c3a)"><path d="M448.0,703.6L482.7,668.9M448.0,703.6L481.1,736.7M458.5,703.6L493.2,668.9M458.5,703.6L491.6,736.7M469.0,703.6L503.7,668.9M469.0,703.6L502.1,736.7M479.5,703.6L514.2,668.9M479.5,703.6L512.6,736.7M490.0,703.6L524.7,668.9M490.0,703.6L523.1,736.7M500.5,703.6L535.2,668.9M500.5,703.6L533.6,736.7M511.0,703.6L545.7,668.9M511.0,703.6L544.1,736.7M521.5,703.6L556.2,668.9M521.5,703.6L554.6,736.7M532.0,703.6L566.7,668.9M532.0,703.6L565.1,736.7M542.5,703.6L577.2,668.9M542.5,703.6L575.6,736.7M553.0,703.6L587.7,668.9M553.0,703.6L586.1,736.7M563.5,703.6L598.2,668.9M563.5,703.6L596.6,736.7M574.0,703.6L608.7,668.9M574.0,703.6L607.1,736.7M584.5,703.6L619.2,668.9M584.5,703.6L617.6,736.7M595.0,703.6L629.7,668.9M595.0,703.6L628.1,736.7M605.5,703.6L640.2,668.9M605.5,703.6L638.6,736.7M616.0,703.6L650.7,668.9M616.0,703.6L649.1,736.7M626.5,703.6L661.2,668.9M626.5,703.6L659.6,736.7" stroke="#1f262e" stroke-width="1.3" fill="none"/></g>
<line x1="507.8" y1="703.6" x2="572.4" y2="703.6" stroke="#1f262e" stroke-width="1.3"/>
<path d="M507.8,670.9 H572.4 V734.7 H507.8 Z" fill="none" stroke="#1e1e1e" stroke-width="1.5"/>
<clipPath id="c3b"><rect x="620.7" y="670.9" width="65.5" height="63.80000000000007"/></clipPath>
<path d="M620.7,670.9 H686.2 V734.7 H620.7 Z" fill="#90959a"/>
<g clip-path="url(#c3b)"><path d="M563.5,703.6L598.2,668.9M563.5,703.6L596.6,736.7M574.0,703.6L608.7,668.9M574.0,703.6L607.1,736.7M584.5,703.6L619.2,668.9M584.5,703.6L617.6,736.7M595.0,703.6L629.7,668.9M595.0,703.6L628.1,736.7M605.5,703.6L640.2,668.9M605.5,703.6L638.6,736.7M616.0,703.6L650.7,668.9M616.0,703.6L649.1,736.7M626.5,703.6L661.2,668.9M626.5,703.6L659.6,736.7M637.0,703.6L671.7,668.9M637.0,703.6L670.1,736.7M647.5,703.6L682.2,668.9M647.5,703.6L680.6,736.7M658.0,703.6L692.7,668.9M658.0,703.6L691.1,736.7M668.5,703.6L703.2,668.9M668.5,703.6L701.6,736.7M679.0,703.6L713.7,668.9M679.0,703.6L712.1,736.7M689.5,703.6L724.2,668.9M689.5,703.6L722.6,736.7M700.0,703.6L734.7,668.9M700.0,703.6L733.1,736.7M710.5,703.6L745.2,668.9M710.5,703.6L743.6,736.7M721.0,703.6L755.7,668.9M721.0,703.6L754.1,736.7M731.5,703.6L766.2,668.9M731.5,703.6L764.6,736.7M742.0,703.6L776.7,668.9M742.0,703.6L775.1,736.7" stroke="#1f262e" stroke-width="1.3" fill="none"/></g>
<line x1="620.7" y1="703.6" x2="686.2" y2="703.6" stroke="#1f262e" stroke-width="1.3"/>
<path d="M620.7,670.9 H686.2 V734.7 H620.7 Z" fill="none" stroke="#1e1e1e" stroke-width="1.5"/>
<path d="M560,734.7 C545,735 545,747 560,747 L634,747 C650,747 650,735 634,734.7 Z" fill="#d2d3d5" stroke="#1e1e1e" stroke-width="1.4"/>
<path d="M558,742 C566,739 574,740 578,741" fill="none" stroke="#111" stroke-width="1.6"/>
<path d="M636,742 C628,739 620,740 616,741" fill="none" stroke="#111" stroke-width="1.6"/>
<rect x="573.5" y="670.9" width="46.5" height="74" fill="#dcdde0" stroke="#1e1e1e" stroke-width="1.3"/>
<rect x="577.6" y="676" width="38" height="34" fill="#141414"/>
<rect x="581" y="654.5" width="30.200000000000045" height="21.5" fill="url(#knurl)" stroke="#1e1e1e" stroke-width="1.1"/>
<rect x="581" y="676" width="30.200000000000045" height="33.700000000000045" rx="0" fill="url(#mg)" stroke="#1e1e1e" stroke-width="1.2"/>
<rect x="577.6" y="709.7" width="37.89999999999998" height="34.299999999999955" fill="url(#knurl)" stroke="#1e1e1e" stroke-width="1.1"/>
<path d="M574,745 H618.1 V765.3 Q618.1,768.3 615.1,768.3 H577 Q574,768.3 574,765.3 Z" fill="url(#mg)" stroke="#1e1e1e" stroke-width="1.4"/><line x1="576" y1="763.3" x2="616.1" y2="763.3" stroke="#555" stroke-width="0.9"/>
<path d="M555.2,808.3 H649.1 L627.6,835.3 V886.2 H576.7 V835.3 Z" fill="#cfd0d3" stroke="#1e1e1e" stroke-width="1.2"/>
<clipPath id="c4a"><path d="M509.5,808.3 H555.2 L576.7,835.3 V886.2 H509.5 Z"/></clipPath>
<path d="M509.5,808.3 H555.2 L576.7,835.3 V886.2 H509.5 Z" fill="#90959a"/>
<g clip-path="url(#c4a)"><path d="M435.6,842.2L471.5,806.3M435.6,842.2L481.6,888.2M446.6,842.2L482.5,806.3M446.6,842.2L492.6,888.2M457.6,842.2L493.5,806.3M457.6,842.2L503.6,888.2M468.6,842.2L504.5,806.3M468.6,842.2L514.6,888.2M479.6,842.2L515.5,806.3M479.6,842.2L525.6,888.2M490.6,842.2L526.5,806.3M490.6,842.2L536.6,888.2M501.6,842.2L537.5,806.3M501.6,842.2L547.6,888.2M512.6,842.2L548.5,806.3M512.6,842.2L558.6,888.2M523.6,842.2L559.5,806.3M523.6,842.2L569.6,888.2M534.6,842.2L570.5,806.3M534.6,842.2L580.6,888.2M545.6,842.2L581.5,806.3M545.6,842.2L591.6,888.2M556.6,842.2L592.5,806.3M556.6,842.2L602.6,888.2M567.6,842.2L603.5,806.3M567.6,842.2L613.6,888.2M578.6,842.2L614.5,806.3M578.6,842.2L624.6,888.2M589.6,842.2L625.5,806.3M589.6,842.2L635.6,888.2M600.6,842.2L636.5,806.3M600.6,842.2L646.6,888.2M611.6,842.2L647.5,806.3M611.6,842.2L657.6,888.2M622.6,842.2L658.5,806.3M622.6,842.2L668.6,888.2M633.6,842.2L669.5,806.3M633.6,842.2L679.6,888.2M644.6,842.2L680.5,806.3M644.6,842.2L690.6,888.2" stroke="#1f262e" stroke-width="1.3" fill="none"/></g>
<line x1="509.5" y1="842.2" x2="576.7" y2="842.2" stroke="#1f262e" stroke-width="1.3"/>
<path d="M509.5,808.3 H555.2 L576.7,835.3 V886.2 H509.5 Z" fill="none" stroke="#1e1e1e" stroke-width="1.5"/>
<clipPath id="c4b"><path d="M649.1,808.3 H694.8 V886.2 H627.6 V835.3 Z"/></clipPath>
<path d="M649.1,808.3 H694.8 V886.2 H627.6 V835.3 Z" fill="#90959a"/>
<g clip-path="url(#c4b)"><path d="M556.6,842.2L592.5,806.3M556.6,842.2L602.6,888.2M567.6,842.2L603.5,806.3M567.6,842.2L613.6,888.2M578.6,842.2L614.5,806.3M578.6,842.2L624.6,888.2M589.6,842.2L625.5,806.3M589.6,842.2L635.6,888.2M600.6,842.2L636.5,806.3M600.6,842.2L646.6,888.2M611.6,842.2L647.5,806.3M611.6,842.2L657.6,888.2M622.6,842.2L658.5,806.3M622.6,842.2L668.6,888.2M633.6,842.2L669.5,806.3M633.6,842.2L679.6,888.2M644.6,842.2L680.5,806.3M644.6,842.2L690.6,888.2M655.6,842.2L691.5,806.3M655.6,842.2L701.6,888.2M666.6,842.2L702.5,806.3M666.6,842.2L712.6,888.2M677.6,842.2L713.5,806.3M677.6,842.2L723.6,888.2M688.6,842.2L724.5,806.3M688.6,842.2L734.6,888.2M699.6,842.2L735.5,806.3M699.6,842.2L745.6,888.2M710.6,842.2L746.5,806.3M710.6,842.2L756.6,888.2M721.6,842.2L757.5,806.3M721.6,842.2L767.6,888.2M732.6,842.2L768.5,806.3M732.6,842.2L778.6,888.2M743.6,842.2L779.5,806.3M743.6,842.2L789.6,888.2M754.6,842.2L790.5,806.3M754.6,842.2L800.6,888.2M765.6,842.2L801.5,806.3M765.6,842.2L811.6,888.2" stroke="#1f262e" stroke-width="1.3" fill="none"/></g>
<line x1="627.6" y1="842.2" x2="694.8" y2="842.2" stroke="#1f262e" stroke-width="1.3"/>
<path d="M649.1,808.3 H694.8 V886.2 H627.6 V835.3 Z" fill="none" stroke="#1e1e1e" stroke-width="1.5"/>
<path d="M562,886.2 C548,887 548,903.4 562,903.4 L642,903.4 C657,903.4 657,887 642,886.2 Z" fill="#d2d3d5" stroke="#1e1e1e" stroke-width="1.4"/>
<path d="M563,898 C570,895 578,896 582,897" fill="none" stroke="#111" stroke-width="1.6"/>
<path d="M642,898 C634,895 626,896 622,897" fill="none" stroke="#111" stroke-width="1.6"/>
<rect x="578.4" y="835.3" width="47.5" height="66.4" fill="#dcdde0" stroke="#1e1e1e" stroke-width="1.2"/>
<path d="M582.8,832 C582.8,828 585,828 587,828 L618,828 C621,828 622.4,829 622.4,832 V865.5 H582.8 Z" fill="#141414"/>
<rect x="587" y="808.3" width="31.100000000000023" height="20.100000000000023" fill="url(#knurl)" stroke="#1e1e1e" stroke-width="1.1"/>
<rect x="587" y="828.4" width="31.100000000000023" height="37.10000000000002" rx="0" fill="url(#mg)" stroke="#1e1e1e" stroke-width="1.2"/>
<rect x="582.8" y="865.5" width="39.60000000000002" height="36.200000000000045" fill="url(#knurl)" stroke="#1e1e1e" stroke-width="1.1"/>
<path d="M578.4,901.7 H625 V922.9 Q625,925.9 622,925.9 H581.4 Q578.4,925.9 578.4,922.9 Z" fill="url(#mg)" stroke="#1e1e1e" stroke-width="1.4"/><line x1="580.4" y1="920.9" x2="623" y2="920.9" stroke="#555" stroke-width="0.9"/>
<path d="M797,677.5999999999999 H862 V702.0 H797 Q794,702.0 794,699.0 V680.5999999999999 Q794,677.5999999999999 797,677.5999999999999 Z" fill="url(#mgv)" stroke="#1e1e1e" stroke-width="1.2"/>
<line x1="807.6" y1="677.5999999999999" x2="807.6" y2="702.0" stroke="#1e1e1e" stroke-width="1.1"/>
<line x1="838.4" y1="677.5999999999999" x2="838.4" y2="702.0" stroke="#1e1e1e" stroke-width="1.1"/>
<rect x="871.5" y="681.4" width="102.70000000000005" height="16.600000000000023" fill="#b4b5b7" stroke="#1e1e1e" stroke-width="1.1"/>
<path d="M875.5,682.4V697.0M882.1,682.4V697.0M888.7,682.4V697.0M895.3,682.4V697.0M901.9,682.4V697.0M908.5,682.4V697.0M915.1,682.4V697.0M921.7,682.4V697.0M928.3,682.4V697.0M934.9,682.4V697.0M941.5,682.4V697.0M948.1,682.4V697.0M954.7,682.4V697.0M961.3,682.4V697.0M967.9,682.4V697.0" stroke="#ececec" stroke-width="1.6"/>
<path d="M873.0,681.4V698.0M879.6,681.4V698.0M886.2,681.4V698.0M892.8,681.4V698.0M899.4,681.4V698.0M906.0,681.4V698.0M912.6,681.4V698.0M919.2,681.4V698.0M925.8,681.4V698.0M932.4,681.4V698.0M939.0,681.4V698.0M945.6,681.4V698.0M952.2,681.4V698.0M958.8,681.4V698.0M965.4,681.4V698.0M972.0,681.4V698.0" stroke="#3a3a3a" stroke-width="1.1"/>
<path d="M974.2,681.4 L986,684.5999999999999 V695.0 L974.2,698.0 Z" fill="#e6e7e9" stroke="#1e1e1e" stroke-width="1.1"/>
<path d="M861.5,664.5 C868,666.5 871.5,677.8 871.5,689.8 C871.5,701.8 868,713.0999999999999 861.5,715.0999999999999 Z" fill="#e6e7e9" stroke="#1e1e1e" stroke-width="1.2"/>
<path d="M800.3,851.8 H864.7 V876.2 H800.3 Q797.3,876.2 797.3,873.2 V854.8 Q797.3,851.8 800.3,851.8 Z" fill="url(#mgv)" stroke="#1e1e1e" stroke-width="1.2"/>
<line x1="809.4" y1="851.8" x2="809.4" y2="876.2" stroke="#1e1e1e" stroke-width="1.1"/>
<line x1="840.8" y1="851.8" x2="840.8" y2="876.2" stroke="#1e1e1e" stroke-width="1.1"/>
<rect x="873.7" y="855.6" width="104.09999999999991" height="16.600000000000023" fill="#b4b5b7" stroke="#1e1e1e" stroke-width="1.1"/>
<path d="M877.7,856.6V871.2M884.3,856.6V871.2M890.9,856.6V871.2M897.5,856.6V871.2M904.1,856.6V871.2M910.7,856.6V871.2M917.3,856.6V871.2M923.9,856.6V871.2M930.5,856.6V871.2M937.1,856.6V871.2M943.7,856.6V871.2M950.3,856.6V871.2M956.9,856.6V871.2M963.5,856.6V871.2M970.1,856.6V871.2M976.7,856.6V871.2" stroke="#ececec" stroke-width="1.6"/>
<path d="M875.2,855.6V872.2M881.8,855.6V872.2M888.4,855.6V872.2M895.0,855.6V872.2M901.6,855.6V872.2M908.2,855.6V872.2M914.8,855.6V872.2M921.4,855.6V872.2M928.0,855.6V872.2M934.6,855.6V872.2M941.2,855.6V872.2M947.8,855.6V872.2M954.4,855.6V872.2M961.0,855.6V872.2M967.6,855.6V872.2M974.2,855.6V872.2" stroke="#3a3a3a" stroke-width="1.1"/>
<path d="M977.8,855.6 L989.6,858.8 V869.2 L977.8,872.2 Z" fill="#e6e7e9" stroke="#1e1e1e" stroke-width="1.1"/>
<path d="M864.7,839.1 L873.7,855 V873 L864.7,888.9 Z" fill="#e6e7e9" stroke="#1e1e1e" stroke-width="1.2"/>
<g stroke-linecap="round"><line x1="495" y1="1003.4" x2="560" y2="1003.4" stroke="#ebebeb" stroke-width="1.5"/><line x1="184" y1="1291.6" x2="292" y2="1291.6" stroke="#dedede" stroke-width="1.4"/><line x1="693" y1="1291.5" x2="850" y2="1291.5" stroke="#dadada" stroke-width="1.4"/><line x1="1026.5" y1="1004" x2="1026.5" y2="1250" stroke="#f3f3f3" stroke-width="1.2"/></g>
<path d="M292.4,1238 C292,1246 305,1250 322,1249.5 L336,1248 L336,1232 Z" fill="#868898" stroke="#3a3d4e" stroke-width="1"/>
<ellipse cx="304" cy="1240" rx="4" ry="2.5" fill="#c8cad4"/>
<path d="M388,1214 L418.6,1208 L418.6,1224 Q418,1227 412,1228 L392,1232 Z" fill="#575966" stroke="#3a3d4e" stroke-width="1"/>
<path d="M143.3,1085.4 L412.9,1022.4 L496.1,1055.7 L224.8,1118.6 Z" fill="#9498ad" stroke="#3a3d4e" stroke-width="1.2" stroke-linejoin="round" />
<path d="M143.3,1085.4 L224.8,1118.6 L224.8,1255.2 L143.3,1221.0 Z" fill="#7f8296" stroke="#3a3d4e" stroke-width="1.2" stroke-linejoin="round" />
<rect x="219" y="1121" width="5" height="132" fill="#8a8da0" opacity="0.6"/>
<line x1="143.3" y1="1153" x2="224.8" y2="1187" stroke="#2f3242" stroke-width="1.6"/>
<path d="M294.4,1088 C296,1070 302,1060 312,1054.5 C325,1049 345,1048 356,1048.7 C375,1049 395,1053 406.4,1061.8 C412,1066 414,1072 413.6,1076.4 L390,1082 L332,1096 Z" fill="#a2a5b7" stroke="#3a3d4e" stroke-width="1.1"/>
<path d="M311.8,1097 C311,1086 315,1076 322,1070 C328,1066 334,1064 339,1064 L339,1094 Z" fill="#72758a" stroke="#3a3d4e" stroke-width="0.9"/>
<path d="M305,1062 C318,1054 340,1051 362,1052 C376,1053 388,1057 395,1062" fill="none" stroke="#707385" stroke-width="1.2"/>
<path d="M331.6,1093.8 L390.0,1080.3 L390.0,1216.4 L331.6,1232.0 Z" fill="#5c5e6d" />
<path d="M224.8,1118.6 L331.6,1093.8 L331.6,1231.0 L224.8,1255.2 Z" fill="#686a7c" stroke="#3a3d4e" stroke-width="1.2" stroke-linejoin="round" />
<line x1="224.8" y1="1187" x2="331.6" y2="1162" stroke="#2f3242" stroke-width="1.6"/>
<path d="M390.0,1080.3 L496.1,1055.7 L496.1,1191.5 L390.0,1216.4 Z" fill="#686a7c" stroke="#3a3d4e" stroke-width="1.2" stroke-linejoin="round" />
<line x1="390" y1="1148.3" x2="496.1" y2="1123.5" stroke="#2f3242" stroke-width="1.6"/>
<rect x="332" y="1090" width="6.5" height="153" fill="#7c7f91"/>
<rect x="383" y="1082" width="7" height="136" fill="#3d3f4c"/>
<rect x="340.9" y="1059" width="40" height="26" fill="#9a9daf" stroke="#3a3d4e" stroke-width="1"/>
<rect x="340.9" y="1085" width="40" height="3" fill="#4a4c5a"/>
<rect x="339.5" y="1088" width="44" height="21" fill="#8a8d9f" stroke="#3a3d4e" stroke-width="1"/>
<rect x="339" y="1114" width="45" height="47" fill="url(#kn3)"/>
<path d="M340.1,1115V1160M343.3,1115V1160M348.3,1115V1160M354.5,1115V1160M361.5,1115V1160M368.5,1115V1160M374.7,1115V1160M379.7,1115V1160M382.9,1115V1160" stroke="#2c2e3a" stroke-width="0.9"/>
<path d="M339.3,1115V1160M341.5,1115V1160M345.6,1115V1160M351.3,1115V1160M358.0,1115V1160M365.0,1115V1160M371.7,1115V1160M377.4,1115V1160M381.5,1115V1160M383.7,1115V1160" stroke="#a4a6b5" stroke-width="0.9" stroke-opacity="0.75"/>
<rect x="339" y="1114" width="45" height="47" fill="none" stroke="#2a2c38" stroke-width="1"/>
<ellipse cx="361.3" cy="1113" rx="21.8" ry="6.3" fill="#a9acbe" stroke="#3a3d4e" stroke-width="1"/>
<rect x="339" y="1161" width="45" height="40.4" fill="url(#sm3)" stroke="#2a2c38" stroke-width="1"/>
<rect x="338.5" y="1201.4" width="46.5" height="43.59999999999991" fill="url(#kn3)"/>
<path d="M339.6,1202.4V1244M342.9,1202.4V1244M348.1,1202.4V1244M354.6,1202.4V1244M361.8,1202.4V1244M368.9,1202.4V1244M375.4,1202.4V1244M380.6,1202.4V1244M383.9,1202.4V1244" stroke="#2c2e3a" stroke-width="0.9"/>
<path d="M338.8,1202.4V1244M341.0,1202.4V1244M345.3,1202.4V1244M351.2,1202.4V1244M358.1,1202.4V1244M365.4,1202.4V1244M372.3,1202.4V1244M378.2,1202.4V1244M382.5,1202.4V1244M384.7,1202.4V1244" stroke="#a4a6b5" stroke-width="0.9" stroke-opacity="0.75"/>
<rect x="338.5" y="1201.4" width="46.5" height="43.59999999999991" fill="none" stroke="#2a2c38" stroke-width="1"/>
<path d="M328.3,1245.2 H394.5 V1266 Q392.5,1275 361.4,1275 Q330.3,1275 328.3,1266 Z" fill="url(#cap3)" stroke="#3a3d4e" stroke-width="1.2"/>
<line x1="330" y1="1248.5" x2="393" y2="1248.5" stroke="#9a9caa" stroke-width="1.1"/>
<path d="M330,1262 Q361,1266 393,1262" fill="none" stroke="#555766" stroke-width="1"/>
<path d="M777,1228 C772,1240 785,1246 800,1245 L960,1220 C978,1216 980,1204 972,1200 L930,1196 L790,1220 Z" fill="#4c4e5c" stroke="#3a3d4e" stroke-width="1.2"/>
<path d="M786,1236 C792,1230 800,1228 812,1227" fill="none" stroke="#a8aab8" stroke-width="2.5"/>
<path d="M812,1236 C840,1234 900,1226 945,1212" fill="none" stroke="#8a8c9a" stroke-width="1.6"/>
<path d="M673.6,1060.0 L954.3,1007.1 L1023.7,1035.4 L742.7,1085.5 Z" fill="#989bad" stroke="#3a3d4e" stroke-width="1.2" stroke-linejoin="round" />
<path d="M784.5,1062 C784,1045 790,1030 805,1020 C822,1010 850,1006 875,1005 C900,1004.5 925,1006 945,1011 C955,1020 962,1032 966,1044 L931,1052 L836,1068 L800,1074 Z" fill="#9da0b2" stroke="#3a3d4e" stroke-width="1.1"/>
<path d="M806,1024 C828,1013 870,1009 905,1010" fill="none" stroke="#75788b" stroke-width="1.3"/>
<path d="M802,1073 C801,1058 808,1046 822,1039 C832,1035 842,1033 850,1033 L850,1066 Z" fill="#4e5060" stroke="#3a3d4e" stroke-width="0.9"/>
<path d="M912,1019 C925,1014 933,1011 936,1011 C950,1018 960,1030 965.2,1043.3 L931,1052 L912,1052 Z" fill="#4b4d5c" stroke="#3a3d4e" stroke-width="0.9"/>
<path d="M673.6,1060.0 L742.7,1085.5 L742.7,1231.0 L673.6,1203.6 Z" fill="#7e8195" stroke="#3a3d4e" stroke-width="1.2" stroke-linejoin="round" />
<rect x="737" y="1088" width="5" height="141" fill="#8a8da0" opacity="0.5"/>
<line x1="673.6" y1="1155.5" x2="742.7" y2="1180" stroke="#2f3242" stroke-width="1.6"/>
<path d="M836.0,1068.9 L931.0,1051.9 L931.0,1197.4 L836.0,1214.4 Z" fill="#4a4c5a" />
<path d="M742.7,1085.5 L836.0,1068.9 L836.0,1214.4 L742.7,1231.0 Z" fill="#50525f" stroke="#3a3d4e" stroke-width="1.2" stroke-linejoin="round" />
<line x1="742.7" y1="1180" x2="836" y2="1163.36461" stroke="#2f3242" stroke-width="1.6"/>
<path d="M931.0,1051.9 L1023.7,1035.4 L1023.7,1181.0 L931.0,1197.4 Z" fill="#50525f" stroke="#3a3d4e" stroke-width="1.2" stroke-linejoin="round" />
<line x1="931" y1="1146.42611" x2="1023.7" y2="1129.5" stroke="#2f3242" stroke-width="1.6"/>
<rect x="836" y="1068" width="11" height="146" fill="#5f6272"/>
<rect x="921" y="1050" width="10" height="150" fill="#3b3d4a"/>
<rect x="850.3" y="1017" width="61.6" height="29" fill="#7d8093" stroke="#3a3d4e" stroke-width="1"/>
<ellipse cx="881" cy="1034" rx="28.5" ry="9" fill="#b4b7c6" stroke="#3a3d4e" stroke-width="1"/>
<rect x="847.5" y="1046.6" width="73.70000000000005" height="66.0" fill="url(#kn3)"/>
<path d="M848.4,1047.6V1111.6M851.1,1047.6V1111.6M855.5,1047.6V1111.6M861.4,1047.6V1111.6M868.4,1047.6V1111.6M876.2,1047.6V1111.6M884.4,1047.6V1111.6M892.5,1047.6V1111.6M900.3,1047.6V1111.6M907.3,1047.6V1111.6M913.2,1047.6V1111.6M917.6,1047.6V1111.6M920.3,1047.6V1111.6" stroke="#2c2e3a" stroke-width="0.9"/>
<path d="M847.7,1047.6V1111.6M849.6,1047.6V1111.6M853.1,1047.6V1111.6M858.3,1047.6V1111.6M864.7,1047.6V1111.6M872.2,1047.6V1111.6M880.2,1047.6V1111.6M888.5,1047.6V1111.6M896.5,1047.6V1111.6M904.0,1047.6V1111.6M910.4,1047.6V1111.6M915.6,1047.6V1111.6M919.1,1047.6V1111.6M921.0,1047.6V1111.6" stroke="#a4a6b5" stroke-width="0.9" stroke-opacity="0.75"/>
<rect x="847.5" y="1046.6" width="73.70000000000005" height="66.0" fill="none" stroke="#2a2c38" stroke-width="1"/>
<rect x="847.5" y="1112.6" width="73.7" height="58.8" fill="url(#sm3r)" stroke="#2a2c38" stroke-width="1"/>
<rect x="847" y="1171.4" width="75" height="66.39999999999986" fill="url(#kn3)"/>
<path d="M847.9,1172.4V1236.8M850.7,1172.4V1236.8M855.2,1172.4V1236.8M861.1,1172.4V1236.8M868.2,1172.4V1236.8M876.2,1172.4V1236.8M884.5,1172.4V1236.8M892.8,1172.4V1236.8M900.8,1172.4V1236.8M907.9,1172.4V1236.8M913.8,1172.4V1236.8M918.3,1172.4V1236.8M921.1,1172.4V1236.8" stroke="#2c2e3a" stroke-width="0.9"/>
<path d="M847.2,1172.4V1236.8M849.1,1172.4V1236.8M852.7,1172.4V1236.8M858.0,1172.4V1236.8M864.5,1172.4V1236.8M872.1,1172.4V1236.8M880.3,1172.4V1236.8M888.7,1172.4V1236.8M896.9,1172.4V1236.8M904.5,1172.4V1236.8M911.0,1172.4V1236.8M916.3,1172.4V1236.8M919.9,1172.4V1236.8M921.8,1172.4V1236.8" stroke="#a4a6b5" stroke-width="0.9" stroke-opacity="0.75"/>
<rect x="847" y="1171.4" width="75" height="66.39999999999986" fill="none" stroke="#2a2c38" stroke-width="1"/>
<path d="M931,1251 L1025.5,1253.5 L1025.5,1256 L931,1262 Z" fill="url(#shad)"/>
<path d="M834,1230 H931 V1240 H834 Z" fill="#8e909e" stroke="#3a3d4e" stroke-width="1"/>
<path d="M832.4,1237 H932.6 V1276 Q930.6,1290 882.5,1290 Q834.4,1290 832.4,1276 Z" fill="url(#cap3)" stroke="#3a3d4e" stroke-width="1.2"/>
<path d="M834,1280 Q882,1286 931,1280" fill="none" stroke="#44465a" stroke-width="1.2"/>
<line x1="364.3" y1="1138" x2="552.4" y2="1078.3" stroke="#2f9fd5" stroke-width="3.2" stroke-linecap="round"/>
<line x1="401" y1="1220.3" x2="549" y2="1167.5" stroke="#2f9fd5" stroke-width="3.2" stroke-linecap="round"/>
<line x1="387" y1="1255" x2="550" y2="1269.7" stroke="#2f9fd5" stroke-width="3.2" stroke-linecap="round"/>
<line x1="614.5" y1="1076.1" x2="883" y2="1070.5" stroke="#2f9fd5" stroke-width="3.2" stroke-linecap="round"/>
<line x1="614.5" y1="1168.3" x2="795" y2="1242" stroke="#2f9fd5" stroke-width="3.2" stroke-linecap="round"/>
<line x1="616.2" y1="1270.2" x2="855" y2="1259" stroke="#2f9fd5" stroke-width="3.2" stroke-linecap="round"/>
<path d="M584.2,1045.1 L607.7,1058.7 L607.7,1085.8 L584.2,1099.3 L560.7,1085.8 L560.7,1058.7 Z" fill="#5a5966"/><path d="M578.0,1058.6 H586.8 V1082.3 H581.7 V1063.9 H578.0 Z" fill="#fff"/>
<path d="M584.2,1141.8 L607.7,1155.4 L607.7,1182.5 L584.2,1196.0 L560.7,1182.5 L560.7,1155.4 Z" fill="#5a5966"/><text x="575.9" y="1183.0" font-size="34" font-weight="bold" fill="#fff" textLength="16.6" lengthAdjust="spacingAndGlyphs">2</text>
<path d="M584.2,1238.1 L607.7,1251.7 L607.7,1278.8 L584.2,1292.3 L560.7,1278.8 L560.7,1251.7 Z" fill="#5a5966"/><text x="575.9" y="1279.3" font-size="34" font-weight="bold" fill="#fff" textLength="16.6" lengthAdjust="spacingAndGlyphs">3</text>
<text x="83.5" y="1448.5" fill="#1b3b57" font-size="44" font-weight="bold" textLength="19" lengthAdjust="spacingAndGlyphs">1</text>
<text x="123.7" y="1415.8" fill="#3a4954" font-size="27" textLength="389.3" lengthAdjust="spacingAndGlyphs">Doppeltes Verriegelungssystem</text>
<text x="123.7" y="1447.2" fill="#3a4954" font-size="27" textLength="384.2" lengthAdjust="spacingAndGlyphs">Double mandrel locking system</text>
<text x="123.7" y="1478.6" fill="#3a4954" font-size="27" textLength="360.7" lengthAdjust="spacingAndGlyphs">Double système de fermeture</text>
<text x="560" y="1453" fill="#1b3b57" font-size="44" font-weight="bold">2</text>
<text x="606.3" y="1415.8" fill="#3a4954" font-size="27" textLength="538.1" lengthAdjust="spacingAndGlyphs">Große Schließkopfauflage auf der Blindseite</text>
<text x="606.3" y="1447.2" fill="#3a4954" font-size="27" textLength="540.3" lengthAdjust="spacingAndGlyphs">Large closing head bearing on the blind side</text>
<text x="606.3" y="1478.6" fill="#3a4954" font-size="27" textLength="336.3" lengthAdjust="spacingAndGlyphs">Gros bulbe du côté aveugle</text>
<text x="304.5" y="1589" fill="#1b3b57" font-size="44" font-weight="bold">3</text>
<text x="350.8" y="1552.4" fill="#3a4954" font-size="27" textLength="376.6" lengthAdjust="spacingAndGlyphs">Verliergesicherter Restnietdorn</text>
<text x="350.8" y="1583.6" fill="#3a4954" font-size="27" textLength="399.6" lengthAdjust="spacingAndGlyphs">Safely locked remaining mandrel</text>
<text x="350.8" y="1615.2" fill="#3a4954" font-size="27" textLength="326.2" lengthAdjust="spacingAndGlyphs">Restant de tige imperdable</text>
</svg>
</body></html>
